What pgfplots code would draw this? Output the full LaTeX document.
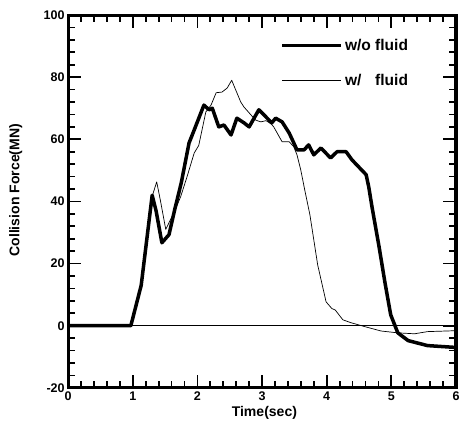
\documentclass[border=0pt]{standalone}
\usepackage{fontspec}
\setmainfont{Liberation Sans}
\usepackage{pgfplots}
\pgfplotsset{compat=1.18}
\begin{document}
\begin{tikzpicture}
\begin{axis}[
 name=ax,
 scale only axis, width=387pt, height=372pt,
 xmin=0, xmax=6, ymin=-20, ymax=100,
 xtick={0,1,2,3,4,5,6}, ytick={-20,0,20,40,60,80,100},
 minor x tick num=4, minor y tick num=4,
 tick align=inside,
 major tick length=13pt, minor tick length=7pt,
 every tick/.style={black, line width=1.8pt},
 separate axis lines,
 every outer x axis line/.append style={line width=3pt, line cap=rect},
 every outer y axis line/.append style={line width=3pt, line cap=rect},
 ticklabel style={font=\bfseries\fontsize{12.5}{12.5}\selectfont},
 /pgf/number format/assume math mode=true,
 xlabel={Time(sec)}, ylabel={Collision Force(MN)},
 label style={font=\bfseries\fontsize{14}{14}\selectfont},
 ylabel style={at={(axis description cs:-0.135,0.53)}, anchor=center},
 xlabel style={at={(axis description cs:0.506,-0.067)}, anchor=center},
 legend style={draw=none, fill=none, at={(axis cs:3.28,93)}, anchor=north west,
   font=\bfseries\fontsize{15.5}{15.5}\selectfont, row sep=18pt, inner sep=0pt},
 legend cell align=left,
 legend image code/.code={\draw[#1] (0pt,0pt) -- (59pt,0pt);},
 /tikz/every even column/.append style={column sep=-7pt},
]
\addplot[black, line width=3.5pt, line join=round] coordinates {
(0,0) (0.97,0) (1.13,13) (1.30,42) (1.36,37) (1.45,26.7) (1.56,29.3) (1.65,37.5)
(1.75,46) (1.87,58.8) (1.95,63) (2.10,71) (2.18,69.5) (2.23,70) (2.33,64) (2.41,64.6)
(2.52,61.4) (2.61,66.8) (2.72,65.3) (2.80,64) (2.95,69.5) (3.06,67.2) (3.15,65.3)
(3.21,66.8) (3.31,65.6) (3.42,62) (3.54,56.6) (3.65,56.6) (3.72,58.2) (3.80,55)
(3.91,57.2) (4.06,54) (4.16,56) (4.30,56) (4.39,53.4) (4.50,51) (4.61,48.6)
(4.65,44.7) (4.70,38.3) (4.81,25.4) (4.90,14) (4.99,3.5) (5.10,-2.3) (5.26,-4.8)
(5.56,-6.4) (6,-7)
};
\addlegendentry{w/o fluid}
\addplot[black, line width=0.7pt, line join=round] coordinates {
(0,0) (0.97,0) (1.13,13) (1.29,41) (1.37,46.3) (1.43,40) (1.51,31) (1.58,34)
(1.65,37) (1.74,41.5) (1.84,48) (1.95,55.6) (2.02,58) (2.13,68.8) (2.21,71)
(2.29,75) (2.38,75.2) (2.46,76.5) (2.53,79) (2.60,75.5) (2.67,72) (2.72,70.4)
(2.83,67.8) (2.90,66.2) (2.98,65.6) (3.06,66) (3.14,65) (3.18,64) (3.31,59.2)
(3.42,59.2) (3.49,57.6) (3.54,55) (3.60,50) (3.66,43.7) (3.74,35.7) (3.86,19.6)
(3.99,7.7) (4.08,5.5) (4.13,5.1) (4.25,1.9) (4.37,1) (4.59,-0.3) (4.84,-1.7)
(5.10,-2.3) (5.36,-2.6) (5.56,-1.9) (6,-1.6)
};
\addlegendentry{w/\phantom{o} fluid}
\addplot[black, line width=0.6pt, forget plot] coordinates {(0,0) (6,0)};
\end{axis}
\pgfresetboundingbox
\path[use as bounding box] ([shift={(-68pt,-43pt)}]ax.south west) rectangle ([shift={(3pt,15pt)}]ax.north east);
\end{tikzpicture}
\end{document}
